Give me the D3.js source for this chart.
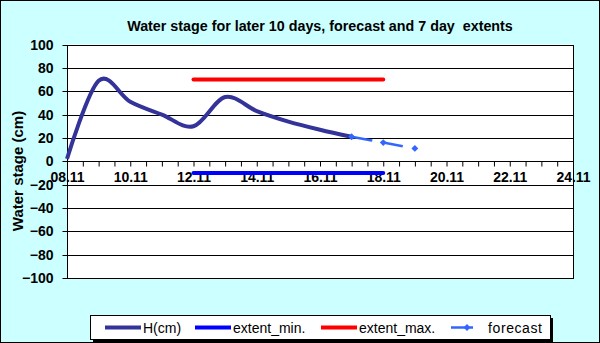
<!DOCTYPE html>
<html>
<head>
<meta charset="utf-8">
<script src="https://cdn.jsdelivr.net/npm/d3@7"></script>
<style>
  html, body { margin: 0; padding: 0; background: #fff; }
  svg { display: block; font-family: "Liberation Sans", Arial, sans-serif; }
</style>
</head>
<body>
<svg id="chart" width="600" height="343"></svg>
<script>
// day of November for each point
const hDays = [8, 9, 10, 11, 12, 13, 14, 15, 16, 17]
const hValues = [2, 69, 51, 40, 30, 55, 43, 34, 27, 21]
const extentDays = [12, 13, 14, 15, 16, 17, 18]
const extentMin = [-10, -10, -10, -10, -10, -10, -10]
const extentMax = [70, 70, 70, 70, 70, 70, 70]
const forecastDays = [17, 18, 19]
const forecastValues = [21, 16, 11]
const yTicks = [-100, -80, -60, -40, -20, 0, 20, 40, 60, 80, 100]
const xLabelDays = [8, 10, 12, 14, 16, 18, 20, 22, 24]
const legendItems = ['H(cm)', 'extent_min.', 'extent_max.', 'forecast']

const W = 600, H = 343
const plot = { left: 67, right: 573, top: 44.5, bottom: 278 }

const svg = d3.select('#chart')

svg.append('rect')
  .attr('x', 0.5).attr('y', 0.5)
  .attr('width', W - 1).attr('height', H - 1)
  .attr('fill', '#ccffff')
  .attr('stroke', '#000')

const x = d3.scaleLinear().domain([8, 24]).range([plot.left, plot.right])
const y = d3.scaleLinear().domain([-100, 100]).range([plot.bottom, plot.top])

svg.append('rect')
  .attr('x', plot.left).attr('y', plot.top)
  .attr('width', plot.right - plot.left).attr('height', plot.bottom - plot.top)
  .attr('fill', '#fff')

// gridlines
svg.append('g')
  .selectAll('line')
  .data(yTicks)
  .enter()
  .append('line')
  .attr('x1', plot.left).attr('x2', plot.right)
  .attr('y1', d => Math.round(y(d)) + 0.5).attr('y2', d => Math.round(y(d)) + 0.5)
  .attr('stroke', '#000')

svg.append('rect')
  .attr('x', plot.left + 0.5).attr('y', Math.round(plot.top) + 0.5)
  .attr('width', plot.right - plot.left).attr('height', Math.round(plot.bottom) - Math.round(plot.top))
  .attr('fill', 'none')
  .attr('stroke', '#000')

// y axis
const yAxis = d3.axisLeft(y)
  .tickValues(yTicks)
  .tickSize(5)
  .tickPadding(9)
const yG = svg.append('g')
  .attr('transform', `translate(${plot.left + 0.5},0)`)
  .call(yAxis)
yG.select('.domain').remove()
yG.selectAll('.tick').attr('transform', d => `translate(0,${Math.round(y(d)) + 0.5})`)
yG.selectAll('text')
  .attr('font-size', 14).attr('font-weight', 'bold').attr('fill', '#000')
  .attr('font-family', '"Liberation Sans", Arial, sans-serif')

// x axis at y = 0, ticks each 12 hours
const halfDays = d3.range(8, 24.01, 0.5)
const xAxis = d3.axisBottom(x)
  .tickValues(halfDays)
  .tickSize(5)
  .tickPadding(6)
  .tickFormat(d => xLabelDays.includes(d) ? d3.format('02d')(d) + '.11' : '')
const xG = svg.append('g')
  .attr('transform', `translate(0,${Math.round(y(0)) + 0.5})`)
  .call(xAxis)
xG.select('.domain').remove()
xG.selectAll('text')
  .attr('font-size', 14).attr('font-weight', 'bold').attr('fill', '#000')
  .attr('font-family', '"Liberation Sans", Arial, sans-serif')

// series
const smooth = d3.line()
  .curve(d3.curveCatmullRom.alpha(0))
  .x(d => x(d[0]))
  .y(d => y(d[1]))
const straight = d3.line()
  .x(d => x(d[0]))
  .y(d => y(d[1]))

svg.append('path')
  .datum(extentDays.map((d, i) => [d, extentMin[i]]))
  .attr('fill', 'none').attr('stroke', '#0000ff')
  .attr('stroke-width', 4).attr('stroke-linecap', 'round')
  .attr('d', straight)

svg.append('path')
  .datum(extentDays.map((d, i) => [d, extentMax[i]]))
  .attr('fill', 'none').attr('stroke', '#ff0000')
  .attr('stroke-width', 4).attr('stroke-linecap', 'round')
  .attr('d', straight)

svg.append('path')
  .datum(forecastDays.map((d, i) => [d, forecastValues[i]]))
  .attr('fill', 'none').attr('stroke', '#3366ff')
  .attr('stroke-width', 2.5)
  .attr('stroke-dasharray', '21,10')
  .attr('d', smooth)

svg.append('path')
  .datum(hDays.map((d, i) => [d, hValues[i]]))
  .attr('fill', 'none').attr('stroke', '#333399')
  .attr('stroke-width', 4).attr('stroke-linejoin', 'round')
  .attr('d', smooth)

const diamond = d3.symbol().type(d3.symbolDiamond2).size(30)
svg.append('g')
  .selectAll('path')
  .data(forecastDays.map((d, i) => [d, forecastValues[i]]))
  .enter()
  .append('path')
  .attr('d', diamond)
  .attr('fill', '#3366ff')
  .attr('transform', d => `translate(${x(d[0])},${y(d[1])})`)

// titles
svg.append('text')
  .attr('x', (plot.left + plot.right) / 2).attr('y', 30.5)
  .attr('text-anchor', 'middle')
  .attr('font-size', 14.3).attr('font-weight', 'bold')
  .text('Water stage for later 10 days, forecast and 7 day  extents')
  .style('white-space', 'pre')

svg.append('text')
  .attr('transform', 'translate(23,171) rotate(-90)')
  .attr('text-anchor', 'middle')
  .attr('font-size', 15).attr('font-weight', 'bold')
  .text('Water stage (cm)')

// legend
const lg = { x: 90, y: 315, w: 460, h: 24 }
svg.append('rect')
  .attr('x', lg.x + 3).attr('y', lg.y + 3)
  .attr('width', lg.w).attr('height', lg.h)
  .attr('fill', '#000')
svg.append('rect')
  .attr('x', lg.x + 0.5).attr('y', lg.y + 0.5)
  .attr('width', lg.w).attr('height', lg.h)
  .attr('fill', '#fff').attr('stroke', '#000')

const legendX = [105, 195, 321, 451]
const legendColors = ['#333399', '#0000ff', '#ff0000', '#3366ff']
const legendTextX = [143, 233, 359, 488]
const ly = lg.y + 12.5
legendItems.forEach((name, i) => {
  svg.append('line')
    .attr('x1', legendX[i]).attr('x2', legendX[i] + (i === 3 ? 22 : 36))
    .attr('y1', ly).attr('y2', ly)
    .attr('stroke', legendColors[i])
    .attr('stroke-width', i === 3 ? 2.5 : 4)
  if (i === 3) {
    svg.append('path')
      .attr('d', diamond)
      .attr('fill', legendColors[i])
      .attr('transform', `translate(${legendX[i] + 16},${ly})`)
  }
  svg.append('text')
    .attr('x', legendTextX[i]).attr('y', ly + 5)
    .attr('font-size', 14)
    .attr('letter-spacing', i === 3 ? 0.6 : 0)
    .text(name)
})
</script>
</body>
</html>
